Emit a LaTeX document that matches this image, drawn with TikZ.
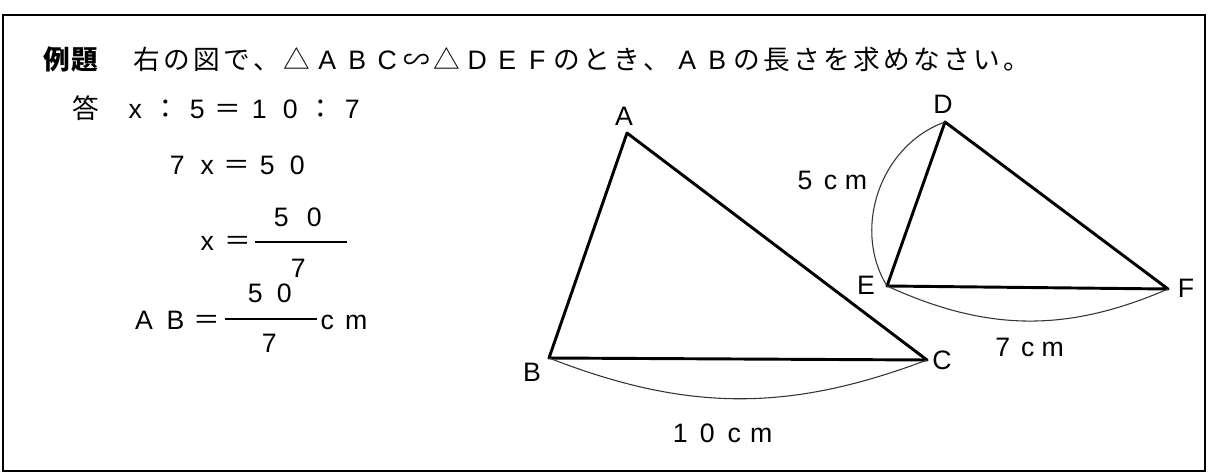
\documentclass[tikz,border=0pt]{standalone}
\usepackage{fontspec}
\setmainfont{Liberation Sans}
\newfontfamily\jpfont{Noto Sans CJK JP}[Scale=1.0]
\newdimen\fwpx \fwpx=0.75pt
\ExplSyntaxOn
\dim_new:N \l_fw_pitch_dim
\cs_new_protected:Npn \fw_item:n #1
  {
    \tl_if_single_token:nTF {#1}
      {
        \int_compare:nNnTF { `#1 } > { 255 }
          { \makebox[\l_fw_pitch_dim][c]{\jpfont #1} }
          { \makebox[\l_fw_pitch_dim][c]{#1} }
      }
      { \makebox[\l_fw_pitch_dim][c]{#1} }
  }
\NewDocumentCommand \fw { O{30} m }
  {
    \dim_set:Nn \l_fw_pitch_dim { #1 \fwpx }
    \tl_map_function:nN {#2} \fw_item:n
  }
\ExplSyntaxOff
\begin{document}
\begin{tikzpicture}[x=0.75pt,y=-0.75pt,
  txt/.style={inner sep=0pt,anchor=base west,font=\fontsize{20pt}{24pt}\selectfont},
  vlabel/.style={inner sep=0pt,anchor=center,font=\fontsize{20pt}{24pt}\selectfont},
  tri/.style={line width=2.2pt,line join=round,black},
  dimarc/.style={line width=0.8pt,black!80},
  fracbar/.style={line width=1.3pt,black},
  frame/.style={line width=1.5pt,black}]
\useasboundingbox (0,0) rectangle (1209,474);
% frame
\draw[frame] (3,15) rectangle (1205,471);
% title
\node[txt,font=\fontsize{20pt}{24pt}\selectfont\bfseries] (q1) at (43,69.5) {\fw[28]{例題}};
\node[txt] (q2) at (132,69.5) {\fw[30]{右の図で、△ABC∽△DEFのとき、ABの長さを求めなさい。}};
% answer
\node[txt] (ans) at (71,119) {\fw[30]{答}};
\node[txt] (r1) at (119.5,119) {\fw[31]{x：5＝10：7}};
\node[txt] (r2) at (162,174.5) {\fw[30]{7x＝50}};
\node[txt] (r3) at (191.5,250) {\fw[31]{x＝}};
\coordinate (f1a) at (255,242);
\coordinate (f1b) at (347,242);
\draw[fracbar] (f1a) -- (f1b);
\node[txt] (n1) at (264.5,226.5) {\fw[33]{50}};
\node[txt] (d1) at (283,277.5) {\fw[30]{7}};
\node[txt] (r4) at (128,329.5) {\fw[31.5]{AB＝}};
\coordinate (f2a) at (225,319);
\coordinate (f2b) at (317,319);
\draw[fracbar] (f2a) -- (f2b);
\node[txt] (n2) at (240.5,302.5) {\fw[29]{50}};
\node[txt] (d2) at (254,352.5) {\fw[30]{7}};
\node[txt] (u2) at (312.5,329.5) {\fw[29]{cm}};
% triangle ABC
\coordinate (A) at (627,133);
\coordinate (B) at (549,358);
\coordinate (C) at (927,360);
\draw[tri] (A) -- (B) -- (C) -- cycle;
\draw[dimarc] (B) to[bend right=21] (C);
\node[vlabel] (lA) at (624,116) {A};
\node[vlabel] (lB) at (532,372) {B};
\node[vlabel] (lC) at (942,360) {C};
\node[txt] (m10) at (666.5,442.5) {\fw[27]{10cm}};
% triangle DEF
\coordinate (D) at (945,122);
\coordinate (E) at (887,286);
\coordinate (F) at (1168,289);
\draw[tri] (D) -- (E) -- (F) -- cycle;
\draw[dimarc] (D) to[bend right=51] (E);
\draw[dimarc] (E) to[bend right=24] (F);
\node[vlabel] (lD) at (943,104) {D};
\node[vlabel] (lE) at (866,285) {E};
\node[vlabel] (lF) at (1186,288) {F};
\node[txt] (m5) at (792,189.5) {\fw[25.5]{5cm}};
\node[txt] (m7) at (990,356.5) {\fw[25]{7cm}};
\end{tikzpicture}
\end{document}
